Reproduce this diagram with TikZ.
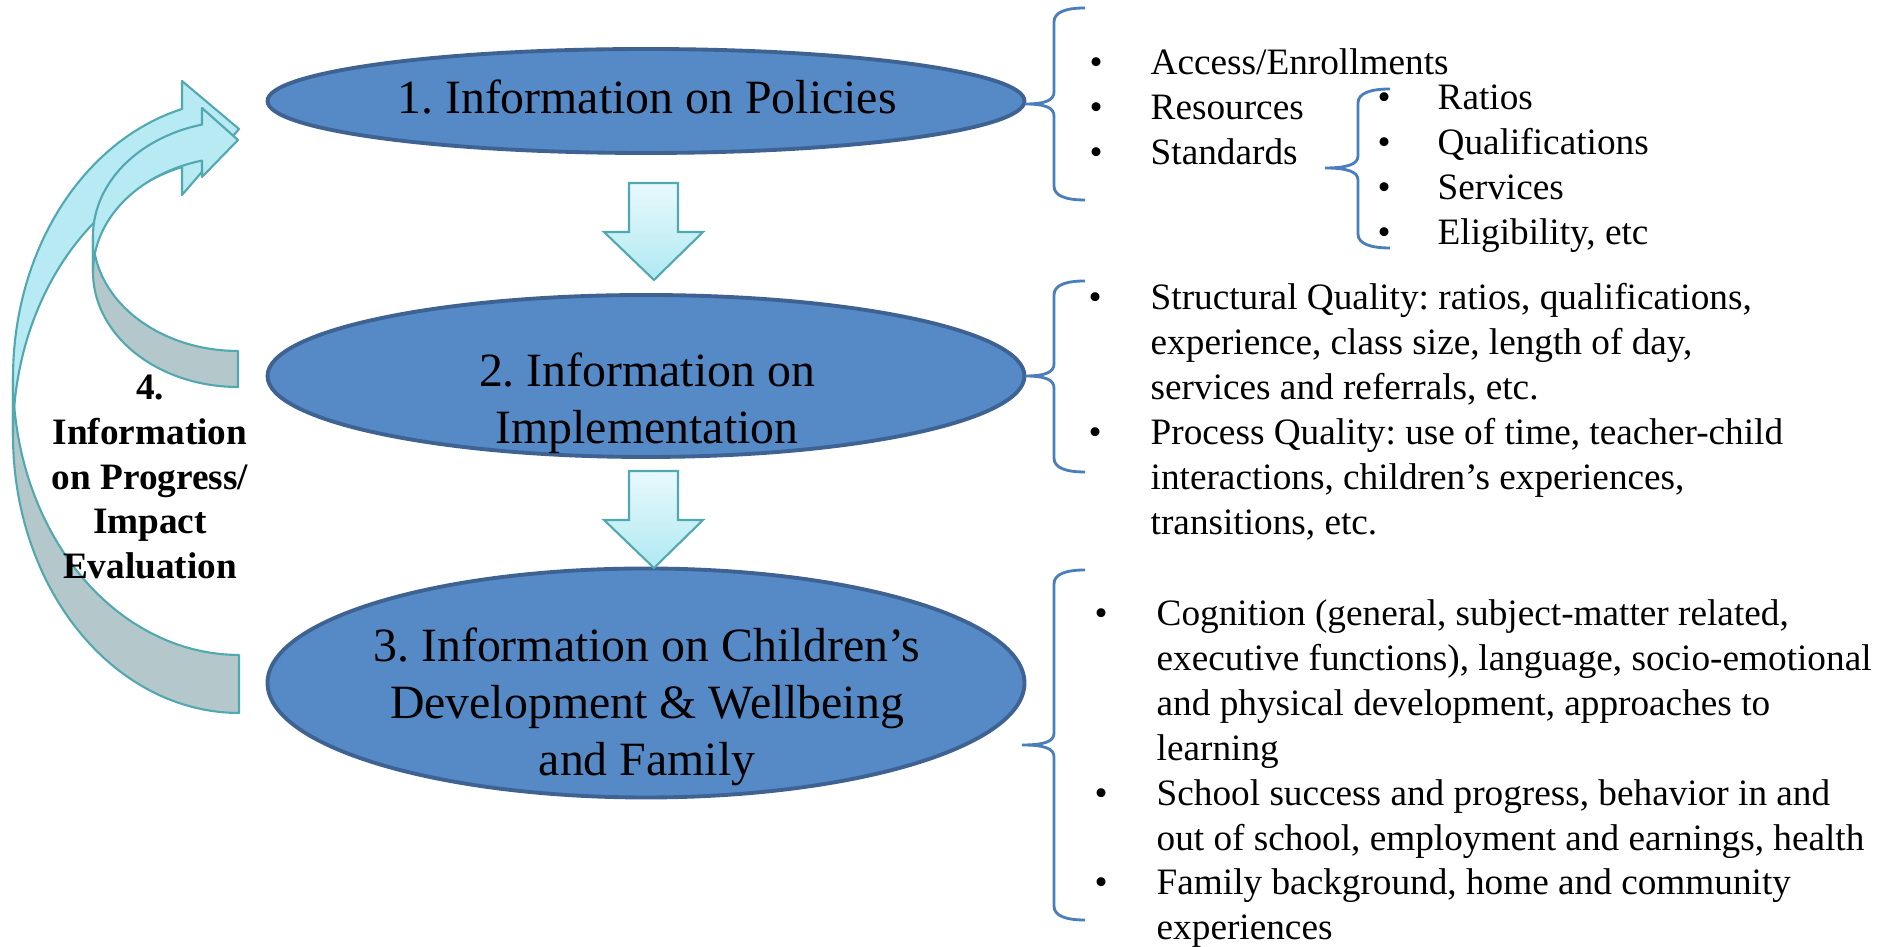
\documentclass[tikz,border=0pt]{standalone}
\usepackage{fontspec}
\setmainfont{Liberation Serif}
\usepackage{xcolor}
\usetikzlibrary{shapes.geometric}
\frenchspacing
\definecolor{stagefill}{RGB}{85,138,198}
\definecolor{stageline}{RGB}{62,98,146}
\definecolor{bracecol}{RGB}{74,126,187}
\definecolor{arrowline}{RGB}{82,168,176}
\definecolor{arrowtop}{RGB}{232,249,252}
\definecolor{arrowbot}{RGB}{176,233,242}
\definecolor{ribbonfront}{RGB}{183,234,242}
\definecolor{ribbonback}{RGB}{180,200,203}

\begin{document}
\begin{tikzpicture}[x=0.1mm, y=-0.1mm,
  stage/.style={ellipse, draw=stageline, fill=stagefill, line width=1.1pt, inner sep=0pt, minimum width=75.7mm},
  stagetext/.style={font=\fontsize{13.6}{16.1}\selectfont, inner sep=0pt, anchor=base},
  itemlist/.style={font=\fontsize{10.6}{12.75}\selectfont, inner sep=0pt, anchor=base west},
  sidetext/.style={font=\fontsize{10.6}{12.7}\selectfont\bfseries, inner sep=0pt, anchor=base},
  curly/.style={draw=bracecol, line width=0.8pt},
  downarrow/.style={draw=arrowline, line width=0.6pt, top color=arrowtop, bottom color=arrowbot},
  front/.style={draw=arrowline, line width=0.6pt, fill=ribbonfront, line join=round},
  back/.style={draw=arrowline, line width=0.6pt, fill=ribbonback, line join=round}]
  \useasboundingbox (0,0) rectangle (1879,947);

  % feedback ribbons on the left
  \draw[back] plot[domain=90:180, samples=40] ({239+226*cos(\x)}, {435.5+277.5*sin(\x)})
    -- plot[domain=180:90, samples=40] ({239+226*cos(\x)}, {377.5+277.5*sin(\x)}) -- cycle;
  \draw[front] plot[domain=180:255.4, samples=40] ({239+226*cos(\x)}, {377.5+277.5*sin(\x)})
    -- (182,81) -- (239,129) -- (182,195)
    -- plot[domain=255.4:180, samples=40] ({239+226*cos(\x)}, {435.5+277.5*sin(\x)}) -- cycle;
  \draw[back] plot[domain=90:180, samples=40] ({238+145*cos(\x)}, {272+115*sin(\x)})
    -- plot[domain=180:90, samples=40] ({238+145*cos(\x)}, {236+115*sin(\x)}) -- cycle;
  \draw[front] plot[domain=180:255.6, samples=40] ({238+145*cos(\x)}, {236+115*sin(\x)})
    -- (202,108) -- (238,140) -- (202,177)
    -- plot[domain=255.6:180, samples=40] ({238+145*cos(\x)}, {272+115*sin(\x)}) -- cycle;

  \node[sidetext] (evaltext) at (150,400) {\begin{tabular}[t]{@{}c@{}}4.\\Information\\on Progress/\\Impact\\Evaluation\end{tabular}};

  % the three stages
  \node[stage, minimum height=10.4mm] (policies) at (646,101) {};
  \node[stage, minimum height=16.2mm] (implement) at (646,376) {};
  \node[stage, minimum height=22.9mm] (children) at (646,683) {};

  \node[stagetext] (policiestext) at (647,114) {1. Information on Policies};
  \node[stagetext] (implementtext) at (647,387) {\begin{tabular}[t]{@{}c@{}}2. Information on\\Implementation\end{tabular}};
  \node[stagetext] (childrentext) at (647,662) {\begin{tabular}[t]{@{}c@{}}3. Information on Children’s\\Development \& Wellbeing\\and Family\end{tabular}};

  \draw[downarrow] (629,183) -- (678,183) -- (678,232) -- (703,232) -- (654,280) -- (604,232) -- (629,232) -- cycle;
  \draw[downarrow] (629,471) -- (678,471) -- (678,520) -- (703,520) -- (654,568) -- (604,520) -- (629,520) -- cycle;

  % braces
  \draw[curly] (1085,8) .. controls (1066,8) and (1054,12) .. (1054,22) -- (1054,92)
    .. controls (1054,100) and (1046,104) .. (1025,104) .. controls (1046,104) and (1054,108) .. (1054,116)
    -- (1054,186) .. controls (1054,196) and (1066,200) .. (1085,200);
  \draw[curly] (1390,89) .. controls (1371,89) and (1358,93) .. (1358,103) -- (1358,156)
    .. controls (1358,164) and (1348,168) .. (1325,168) .. controls (1348,168) and (1358,172) .. (1358,180)
    -- (1358,234) .. controls (1358,244) and (1371,248) .. (1390,248);
  \draw[curly] (1085,281) .. controls (1066,281) and (1054,285) .. (1054,295) -- (1054,364)
    .. controls (1054,372) and (1046,376) .. (1025,376) .. controls (1046,376) and (1054,380) .. (1054,388)
    -- (1054,458) .. controls (1054,468) and (1066,472) .. (1085,472);
  \draw[curly] (1085,570) .. controls (1066,570) and (1054,574) .. (1054,584) -- (1054,733)
    .. controls (1054,741) and (1046,745) .. (1022,745) .. controls (1046,745) and (1054,749) .. (1054,757)
    -- (1054,906) .. controls (1054,916) and (1066,920) .. (1085,920);

  % item lists
  \node[itemlist] (policylist) at (1089,75) {\begin{tabular}[t]{@{}p{6.1mm}@{}l@{}}
    •&Access/Enrollments\\
    •&Resources\\
    •&Standards
  \end{tabular}};
  \node[itemlist] (standardlist) at (1377,110) {\begin{tabular}[t]{@{}p{6.0mm}@{}l@{}}
    •&Ratios\\
    •&Qualifications\\
    •&Services\\
    •&Eligibility, etc
  \end{tabular}};
  \node[itemlist] (qualitylist) at (1088,310) {\begin{tabular}[t]{@{}p{6.2mm}@{}l@{}}
    •&Structural Quality: ratios, qualifications,\\
    &experience, class size, length of day,\\
    &services and referrals, etc.\\
    •&Process Quality: use of time, teacher-child\\
    &interactions, children’s experiences,\\
    &transitions, etc.
  \end{tabular}};
  \node[itemlist] (outcomelist) at (1094,626) {\begin{tabular}[t]{@{}p{6.2mm}@{}l@{}}
    •&Cognition (general, subject-matter related,\\
    &executive functions), language, socio-emotional\\
    &and physical development, approaches to\\
    &learning\\
    •&School success and progress, behavior in and\\
    &out of school, employment and earnings, health\\
    •&Family background, home and community\\
    &experiences
  \end{tabular}};
\end{tikzpicture}
\end{document}
